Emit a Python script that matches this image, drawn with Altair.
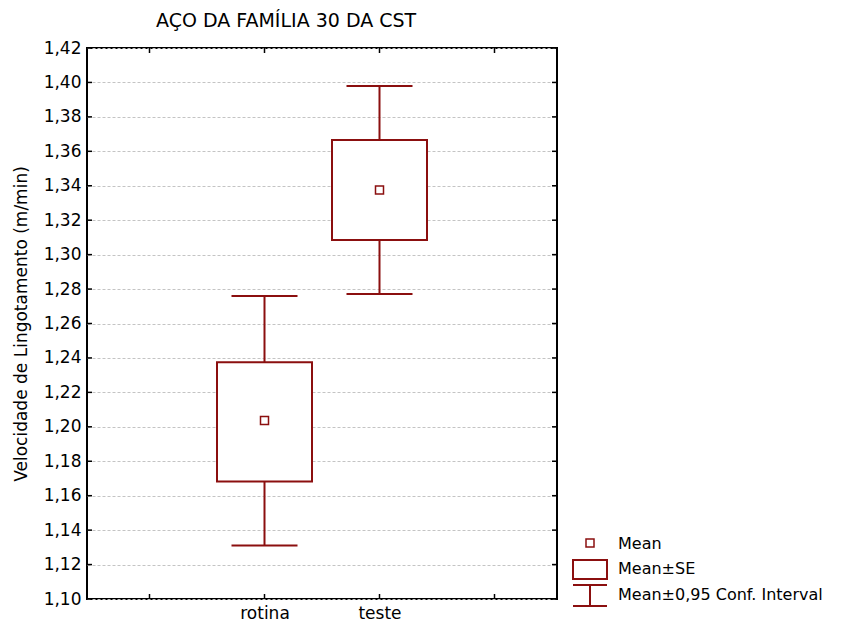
import altair as alt
import pandas as pd

# ---- data ----
categories = ["rotina", "teste"]
cat_positions = [1, 2]
means = [1.2037, 1.3375]
se_low = [1.1683, 1.3085]
se_high = [1.2375, 1.3665]
ci_low = [1.1310, 1.2772]
ci_high = [1.2760, 1.3980]

x_tick_positions = [0, 1, 2, 3]
y_ticks = [1.10, 1.12, 1.14, 1.16, 1.18, 1.20, 1.22, 1.24, 1.26, 1.28,
           1.30, 1.32, 1.34, 1.36, 1.38, 1.40, 1.42]
legend_labels = ["Mean", "Mean±SE", "Mean±0,95 Conf. Interval"]

TITLE = "AÇO DA FAMÍLIA 30 DA CST"
YTITLE = "Velocidade de Lingotamento (m/min)"
COLOR = "#8B0F0F"
FONT = "DejaVu Sans"
FS = 17
W, H = 470, 551

df = pd.DataFrame({
    "cat": categories, "pos": cat_positions, "mean": means,
    "se_low": se_low, "se_high": se_high, "ci_low": ci_low, "ci_high": ci_high,
})
yt = pd.DataFrame({"v": y_ticks})
xt = pd.DataFrame({"p": x_tick_positions})

xscale = alt.Scale(domain=[-0.5, 3.5], nice=False, zero=False)
yscale = alt.Scale(domain=[1.10, 1.42], nice=False, zero=False)

label_expr = " : ".join(
    [f"datum.value == {p} ? '{c}'" for p, c in zip(cat_positions, categories)]
) + " : ''"

xaxis = alt.Axis(values=cat_positions, labelExpr=label_expr, title=None, ticks=False,
                 domain=False, grid=False, labelFontSize=FS, labelPadding=6,
                 labelColor="black", labelFont=FONT)
yaxis = alt.Axis(values=y_ticks, labelExpr="replace(format(datum.value, '.2f'), '.', ',')",
                 title=YTITLE, ticks=False, domain=False, grid=True, gridColor="#c4c4c4",
                 gridDash=[3, 2], gridWidth=1, labelFontSize=FS, labelPadding=6,
                 labelColor="black", labelFont=FONT, titleFont=FONT, titleFontSize=FS,
                 titleFontWeight="normal", titleColor="black", titlePadding=13)


def X(field):
    return alt.X(field, type="quantitative", scale=xscale, axis=xaxis, title=None)


def Y(field):
    return alt.Y(field, type="quantitative", scale=yscale, axis=yaxis, title=YTITLE)


def Y2(field):
    return alt.Y2(field)


base = alt.Chart(df)

boxes = base.mark_bar(size=95, fill="white", stroke=COLOR, strokeWidth=2).encode(
    x=X("pos"), y=Y("se_low"), y2=Y2("se_high"))
stem_hi = base.mark_rule(color=COLOR, strokeWidth=2).encode(
    x=X("pos"), y=Y("se_high"), y2=Y2("ci_high"))
stem_lo = base.mark_rule(color=COLOR, strokeWidth=2).encode(
    x=X("pos"), y=Y("ci_low"), y2=Y2("se_low"))
cap_hi = base.mark_tick(orient="horizontal", size=66, thickness=2, color=COLOR, opacity=1).encode(
    x=X("pos"), y=Y("ci_high"))
cap_lo = base.mark_tick(orient="horizontal", size=66, thickness=2, color=COLOR, opacity=1).encode(
    x=X("pos"), y=Y("ci_low"))
mean_pt = base.mark_point(shape="square", filled=False, size=64, color=COLOR,
                          strokeWidth=1.5, opacity=1).encode(x=X("pos"), y=Y("mean"))

# inward ticks on the frame
yt_left = alt.Chart(yt).mark_rule(color="black", strokeWidth=1.5).encode(
    y=Y("v"), x=alt.value(0), x2=alt.value(5))
yt_right = alt.Chart(yt).mark_rule(color="black", strokeWidth=1.5).encode(
    y=Y("v"), x=alt.value(W - 5), x2=alt.value(W))
xt_top = alt.Chart(xt).mark_rule(color="black", strokeWidth=1.5).encode(
    x=X("p"), y=alt.value(0), y2=alt.value(5))
xt_bot = alt.Chart(xt).mark_rule(color="black", strokeWidth=1.5).encode(
    x=X("p"), y=alt.value(H - 5), y2=alt.value(H))

# manual legend (outside plot, bottom right)
lg = alt.Chart(pd.DataFrame({"label": legend_labels}))
LX = 503  # symbol centre x (px, plot coords)
leg_mean = lg.transform_filter(alt.datum.label == legend_labels[0]).mark_point(
    shape="square", filled=False, size=64, color=COLOR, strokeWidth=1.5, opacity=1, clip=False
).encode(x=alt.value(LX), y=alt.value(495))
leg_box = lg.transform_filter(alt.datum.label == legend_labels[1]).mark_rect(
    fill="white", stroke=COLOR, strokeWidth=2, clip=False
).encode(x=alt.value(LX - 17), x2=alt.value(LX + 17), y=alt.value(512), y2=alt.value(531))
leg_cap1 = lg.transform_filter(alt.datum.label == legend_labels[2]).mark_rule(
    color=COLOR, strokeWidth=2, clip=False
).encode(x=alt.value(LX - 17), x2=alt.value(LX + 17), y=alt.value(537))
leg_cap2 = lg.transform_filter(alt.datum.label == legend_labels[2]).mark_rule(
    color=COLOR, strokeWidth=2, clip=False
).encode(x=alt.value(LX - 17), x2=alt.value(LX + 17), y=alt.value(558))
leg_stem = lg.transform_filter(alt.datum.label == legend_labels[2]).mark_rule(
    color=COLOR, strokeWidth=2, clip=False
).encode(x=alt.value(LX), y=alt.value(537), y2=alt.value(558))


def leg_text(i, ypx):
    return lg.transform_filter(alt.datum.label == legend_labels[i]).mark_text(
        align="left", baseline="middle", fontSize=16, font=FONT, color="black", clip=False
    ).encode(x=alt.value(LX + 28), y=alt.value(ypx), text="label:N")


chart = alt.layer(
    boxes, stem_hi, stem_lo, cap_hi, cap_lo, mean_pt,
    yt_left, yt_right, xt_top, xt_bot,
    leg_mean, leg_box, leg_cap1, leg_cap2, leg_stem,
    leg_text(0, 496), leg_text(1, 521), leg_text(2, 547),
).properties(
    width=W, height=H,
    title=alt.TitleParams(TITLE, anchor="start", frame="group", dx=69, fontSize=19,
                          fontWeight="normal", font=FONT, color="black", offset=8),
    padding={"left": 4, "top": 4, "right": 0, "bottom": 0},
).configure(background="white").configure_view(stroke="black", strokeWidth=2)

chart.save("out.html", embed_options={"renderer": "svg", "actions": False})
